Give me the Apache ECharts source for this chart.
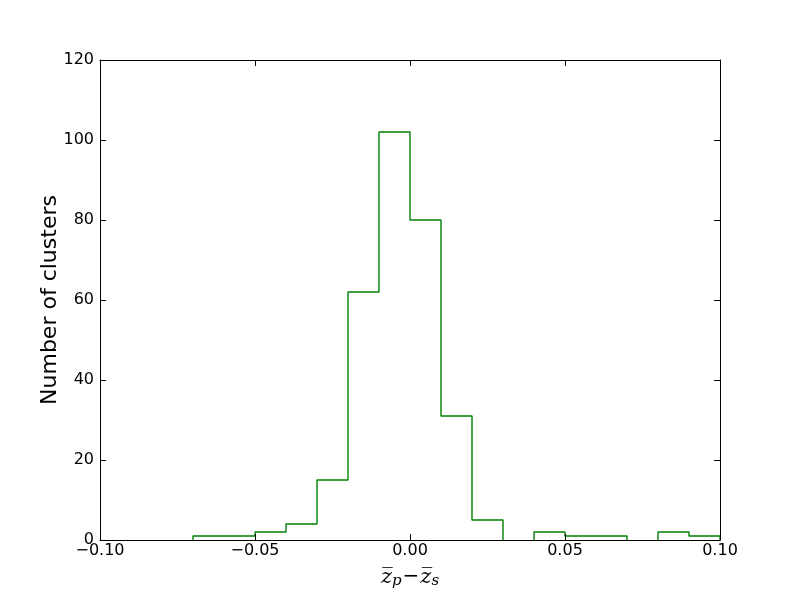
<!DOCTYPE html>
<html>
<head>
<meta charset="utf-8">
<script src="https://cdn.jsdelivr.net/npm/echarts@6/dist/echarts.min.js"></script>
<style>
  html, body { margin: 0; padding: 0; background: #fff; }
  #chart { width: 800px; height: 600px; }
</style>
</head>
<body>
<div id="chart"></div>
<script>
// bin edges (21) and counts per bin (20)
const binEdges = [-0.10, -0.09, -0.08, -0.07, -0.06, -0.05, -0.04, -0.03, -0.02, -0.01,
  0.00, 0.01, 0.02, 0.03, 0.04, 0.05, 0.06, 0.07, 0.08, 0.09, 0.10];
const counts = [0, 0, 0, 1, 1, 2, 4, 15, 62, 102, 80, 31, 5, 0, 2, 1, 1, 0, 2, 1];
const xTicks = [-0.10, -0.05, 0.00, 0.05, 0.10];
const yTicks = [0, 20, 40, 60, 80, 100, 120];

// outline of a step histogram; runs of empty bins are left out so the
// black bottom axis stays visible there (as in matplotlib)
const stepData = [];
let prev = 0;
counts.forEach((c, i) => {
  if (c === 0) {
    if (prev !== 0) {
      stepData.push([binEdges[i], 0]);
      stepData.push([binEdges[i], null]);
    }
  } else {
    if (prev === 0) stepData.push([binEdges[i], 0]);
    stepData.push([binEdges[i], c]);
  }
  prev = c;
});
if (prev !== 0) {
  stepData.push([binEdges[binEdges.length - 1], prev]);
  stepData.push([binEdges[binEdges.length - 1], 0]);
}

const fontFam = 'DejaVu Sans';
const fmtX = v => {
  const s = Math.abs(v).toFixed(2);
  return v < -1e-9 ? '\u2212' + s : s;
};

const chart = echarts.init(document.getElementById('chart'));

const axisCommon = {
  axisLine: { show: true, onZero: false, lineStyle: { color: '#000', width: 1 } },
  axisTick: { show: true, inside: true, length: 6, lineStyle: { color: '#000' } },
  splitLine: { show: false },
  z: 5
};

const option = {
  animation: false,
  backgroundColor: '#fff',
  grid: { left: 100, right: 80, top: 60, bottom: 60, outerBoundsMode: 'none', containLabel: false },
  xAxis: [
    Object.assign({}, axisCommon, {
      type: 'value',
      position: 'bottom',
      min: xTicks[0],
      max: xTicks[xTicks.length - 1],
      interval: 0.05,
      axisLabel: {
        color: '#000', fontFamily: fontFam, fontSize: 16, margin: 3,
        formatter: fmtX
      },
      name: '{z|z\u0305}{sub|p}{op|\u2212}{z|z\u0305}{sub|s}',
      nameLocation: 'middle',
      nameGap: 27,
      nameTextStyle: {
        rich: {
          z: { fontFamily: 'DejaVu Serif', fontStyle: 'italic', fontSize: 21, color: '#000', verticalAlign: 'top', lineHeight: 22 },
          op: { fontFamily: 'DejaVu Sans', fontSize: 20, color: '#000', verticalAlign: 'top', lineHeight: 22, padding: [0, 1, 0, 1] },
          sub: { fontFamily: 'DejaVu Serif', fontStyle: 'italic', fontSize: 15, color: '#000', verticalAlign: 'bottom', lineHeight: 15 }
        }
      }
    }),
    Object.assign({}, axisCommon, {
      type: 'value',
      position: 'top',
      min: xTicks[0],
      max: xTicks[xTicks.length - 1],
      interval: 0.05,
      axisLabel: { show: false }
    })
  ],
  yAxis: [
    Object.assign({}, axisCommon, {
      type: 'value',
      position: 'left',
      min: yTicks[0],
      max: yTicks[yTicks.length - 1],
      interval: 20,
      axisLabel: { color: '#000', fontFamily: fontFam, fontSize: 16, margin: 6 },
      name: 'Number of clusters',
      nameLocation: 'middle',
      nameGap: 39,
      nameMoveOverlap: false,
      nameRotate: 90,
      nameTextStyle: { color: '#000', fontFamily: fontFam, fontSize: 22 }
    }),
    Object.assign({}, axisCommon, {
      type: 'value',
      position: 'right',
      min: yTicks[0],
      max: yTicks[yTicks.length - 1],
      interval: 20,
      axisLabel: { show: false }
    })
  ],
  series: [
    {
      type: 'line',
      xAxisIndex: 0,
      yAxisIndex: 0,
      step: 'end',
      data: stepData,
      connectNulls: false,
      showSymbol: false,
      lineStyle: { color: '#008000', width: 1.4 },
      z: 1
    }
  ]
};

chart.setOption(option);
</script>
</body>
</html>
